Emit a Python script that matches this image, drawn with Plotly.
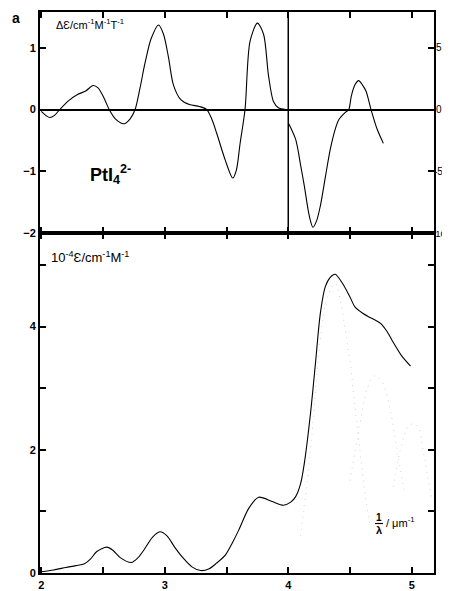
import plotly.graph_objects as go

# ---- data ----
cd_left_x = [2.00, 2.04, 2.07, 2.11, 2.15, 2.22, 2.29, 2.36, 2.42, 2.46, 2.51, 2.55, 2.60, 2.67,
             2.72, 2.76, 2.80, 2.84, 2.89, 2.95, 2.99, 3.03, 3.07, 3.13, 3.20, 3.28, 3.34, 3.38,
             3.42, 3.49, 3.55, 3.58, 3.61, 3.65, 3.69, 3.75, 3.80, 3.84, 3.88, 3.92, 3.98]
cd_left_y = [-0.03, -0.10, -0.13, -0.09, 0.00, 0.14, 0.24, 0.30, 0.39, 0.35, 0.18, 0.00, -0.15, -0.23,
             -0.15, 0.00, 0.35, 0.75, 1.15, 1.37, 1.22, 0.85, 0.40, 0.16, 0.08, 0.05, 0.00, -0.15,
             -0.38, -0.82, -1.11, -0.98, -0.55, 0.00, 1.10, 1.40, 1.22, 0.55, 0.13, 0.03, 0.00]

cd_right_x = [4.00, 4.06, 4.10, 4.13, 4.17, 4.20, 4.23, 4.26, 4.30, 4.34, 4.38, 4.41, 4.46, 4.49,
              4.51, 4.54, 4.57, 4.60, 4.63, 4.67, 4.72, 4.77]
cd_right_y = [-1.07, -2.42, -4.5, -6.18, -8.6, -9.54, -9.0, -7.8, -5.5, -3.23, -1.6, -0.81, -0.25, 0.0,
              1.07, 2.0, 2.34, 2.0, 1.48, 0.0, -1.6, -2.74]

abs_x = [2.00, 2.10, 2.20, 2.28, 2.35, 2.40, 2.45, 2.53, 2.58, 2.64, 2.73, 2.78, 2.83, 2.90, 2.96,
         3.02, 3.08, 3.15, 3.22, 3.29, 3.36, 3.42, 3.49, 3.55, 3.60, 3.68, 3.76, 3.87, 3.96, 4.02,
         4.06, 4.10, 4.13, 4.18, 4.22, 4.26, 4.30, 4.34, 4.38, 4.44, 4.50, 4.54, 4.60, 4.65, 4.71,
         4.75, 4.80, 4.84, 4.92, 4.99]
abs_y = [0.02, 0.05, 0.09, 0.12, 0.15, 0.23, 0.35, 0.42, 0.37, 0.25, 0.17, 0.24, 0.37, 0.58, 0.67,
         0.60, 0.42, 0.24, 0.10, 0.04, 0.07, 0.16, 0.29, 0.50, 0.70, 1.05, 1.23, 1.16, 1.10, 1.15,
         1.24, 1.45, 1.78, 2.59, 3.40, 4.22, 4.65, 4.80, 4.85, 4.70, 4.48, 4.32, 4.22, 4.16, 4.10,
         4.05, 3.92, 3.78, 3.52, 3.36]

# faint gaussian components (dotted)
band_a_x = [4.10, 4.18, 4.26, 4.32, 4.38, 4.42, 4.46, 4.50, 4.54, 4.58, 4.62, 4.66]
band_a_y = [0.6, 2.0, 3.8, 4.5, 4.7, 4.45, 3.95, 3.45, 2.7, 2.0, 1.3, 0.8]
band_b_x = [4.50, 4.58, 4.64, 4.70, 4.76, 4.82, 4.88, 4.94]
band_b_y = [1.5, 2.4, 3.0, 3.2, 3.1, 2.7, 2.0, 1.3]
band_c_x = [4.85, 4.92, 4.98, 5.04, 5.10, 5.16]
band_c_y = [1.4, 2.1, 2.4, 2.4, 1.9, 1.2]

x_ticks = [2, 2.5, 3, 3.5, 4, 4.5, 5]
x_labels = ["2", "", "3", "", "4", "", "5"]
abs_ticks = [0, 1, 2, 3, 4, 5]
abs_labels = ["0", "", "2", "", "4", ""]
cd_ticks_l = [-2, -1, 0, 1]
cd_ticks_r = [-10, -5, 0, 5]
cd_labels_r = ["-10", "-5", "0", "5"]

FONT = "Liberation Sans, Arial, sans-serif"
OFF = 8  # page body margin of the html page

fig = go.Figure()
line = dict(color="black", width=1.1, shape="spline", smoothing=0.8)
faint = dict(color="#d2d2d2", width=1, dash="1px,5px", shape="spline")

for bx, by in [(band_a_x, band_a_y), (band_b_x, band_b_y), (band_c_x, band_c_y)]:
    fig.add_trace(go.Scatter(x=bx, y=by, mode="lines", line=faint, xaxis="x", yaxis="y",
                             showlegend=False, hoverinfo="skip"))
fig.add_trace(go.Scatter(x=abs_x, y=abs_y, mode="lines", line=line, xaxis="x", yaxis="y",
                         showlegend=False))
fig.add_trace(go.Scatter(x=cd_left_x, y=cd_left_y, mode="lines", line=line, xaxis="x2", yaxis="y2",
                         showlegend=False))
fig.add_trace(go.Scatter(x=cd_right_x, y=cd_right_y, mode="lines", line=line, xaxis="x2", yaxis="y3",
                         showlegend=False))

tickfont = dict(family=FONT, size=11, color="black", weight="bold")
common = dict(showgrid=False, zeroline=False, showline=True, linecolor="black", linewidth=2,
              ticks="inside", ticklen=6, tickwidth=1.5, tickcolor="black",
              automargin=False)

dom_split = 340 / 561

fig.update_layout(
    template="none",
    width=450 - OFF, height=591 - OFF,
    margin=dict(l=40 - OFF, r=16, t=12 - OFF, b=18, pad=0),
    paper_bgcolor="white", plot_bgcolor="white",
    xaxis=dict(domain=[0, 1], range=[1.99, 5.18], anchor="y", tickvals=x_ticks, ticktext=x_labels,
               mirror="ticks", tickfont=tickfont, ticklabelstandoff=1, **common),
    xaxis2=dict(domain=[0, 1], range=[1.99, 5.18], anchor="y2", matches="x", tickvals=x_ticks,
                showticklabels=False, mirror="ticks", **common),
    yaxis=dict(domain=[0, dom_split], range=[0, 5.52], anchor="x", tickvals=abs_ticks,
               ticktext=abs_labels, mirror="ticks", tickfont=tickfont, **common),
    yaxis2=dict(domain=[dom_split, 1], range=[-2, 1.58], anchor="x2", tickvals=cd_ticks_l,
                tickfont=tickfont, **{**common, "zeroline": True}, zerolinecolor="black",
                zerolinewidth=2),
    yaxis3=dict(overlaying="y2", side="right", range=[-10, 7.9], anchor="x2", tickvals=cd_ticks_r,
                showticklabels=False, **common),
)

fig.add_shape(type="line", xref="x2", yref="y2 domain", x0=4, x1=4, y0=0, y1=1,
              line=dict(color="black", width=1.5))

W, H = 394, 561
def px(x):
    return (x - 40) / W
def py(y):
    return (573 - y) / H

ann = []
def txt(t, x, y, size=12, xanchor="left", bold=False):
    ann.append(dict(text=t, x=px(x), y=py(y), xref="paper", yref="paper", showarrow=False,
                    xanchor=xanchor, yanchor="middle", borderpad=0, borderwidth=0,
                    font=dict(family=FONT, size=size, color="black",
                              weight="bold" if bold else "normal")))

# right-axis tick labels of the CD panel, hugging the right frame
right_pos = {"-10": 431.5, "-5": 433.5, "0": 436, "5": 436}
right_size = {"-10": 9.5, "-5": 10, "0": 10, "5": 10}
for v, lab in zip(cd_ticks_r, cd_labels_r):
    ann.append(dict(text=lab, x=px(right_pos[lab]), y=v, xref="paper", yref="y3", showarrow=False,
                    xanchor="left", yanchor="middle", borderpad=0, borderwidth=0,
                    font=dict(family=FONT, size=right_size[lab], color="black")))

txt("a", 16, 18, size=14, xanchor="center", bold=True)
txt("ΔƐ/cm<sup>-1</sup>M<sup>-1</sup>T<sup>-1</sup>", 56, 24, size=11)
txt("PtI<sub>4</sub><sup>2-</sup>", 90, 174, size=18, bold=True)
txt("10<sup>-4</sup>Ɛ/cm<sup>-1</sup>M<sup>-1</sup>", 51, 257, size=13)
txt("1", 379, 517, size=10, xanchor="center", bold=True)
txt("λ", 379, 530, size=11, xanchor="center", bold=True)
txt("/ μm<sup>-1</sup>", 386, 522, size=11)
fig.update_layout(annotations=ann)
fig.add_shape(type="line", xref="paper", yref="paper", x0=px(375), x1=px(383), y0=py(523.5),
              y1=py(523.5), line=dict(color="black", width=1.2))

fig.write_html("out.html")
